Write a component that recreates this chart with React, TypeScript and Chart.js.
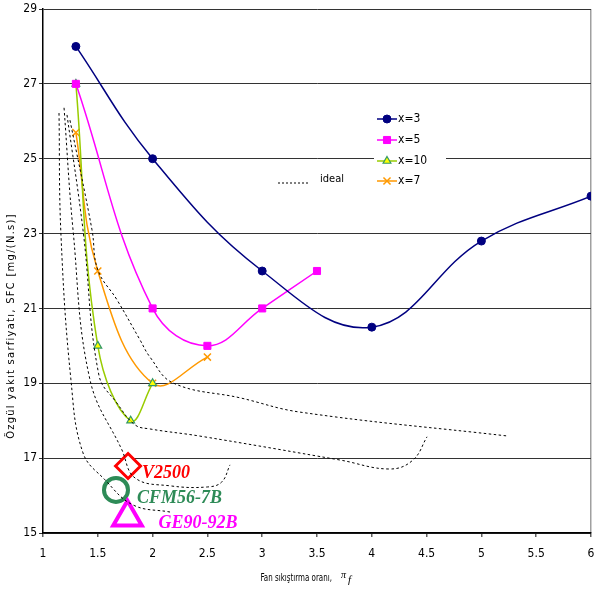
import React, { useEffect, useRef } from "react";
import { Chart, registerables } from "chart.js";

Chart.register(...registerables);

const NARROW = '"Liberation Sans Narrow", "Arial Narrow", "DejaVu Sans Condensed", "Liberation Sans", sans-serif';
const SERIF = '"Liberation Serif", "Times New Roman", serif';

// ---- data ----
const seriesLabels = ["x=3", "x=5", "x=10", "x=7"];

const x3X = [1.3, 2, 3, 4, 5, 6];
const x3Y = [28, 25, 22, 20.5, 22.8, 24];

const x5X = [1.3, 2, 2.5, 3, 3.5];
const x5Y = [27, 21, 20, 21, 22];

const x10X = [1.3, 1.5, 1.8, 2];
const x10Y = [27, 20, 18, 19];

const x7X = [1.3, 1.5, 2, 2.5];
const x7Y = [25.7, 22, 19, 19.7];

const idealLabel = "ideal";
const ideal1X = [1.146, 1.164, 1.255, 1.365, 1.566, 1.821, 2.159];
const ideal1Y = [26.22, 22.96, 19.09, 17.14, 16.42, 15.75, 15.56];
const ideal2X = [1.192, 1.274, 1.429, 1.72, 1.84, 2.16, 2.5, 2.63, 2.706];
const ideal2Y = [26.36, 23.1, 19.09, 17.22, 16.47, 16.26, 16.23, 16.36, 16.82];
const ideal3X = [1.219, 1.365, 1.51, 1.675, 1.839, 1.976, 2.43, 3.71, 4.166, 4.376, 4.504];
const ideal3Y = [26.17, 23.1, 19.22, 18.47, 17.89, 17.78, 17.59, 16.95, 16.71, 16.95, 17.57];
const ideal4X = [1.246, 1.447, 1.5, 1.675, 1.885, 1.976, 2.186, 2.8, 3.345, 5.243];
const ideal4Y = [26.03, 23.1, 22.03, 21.23, 20.16, 19.7, 19.01, 18.61, 18.23, 17.59];

const engineNames = ["V2500", "CFM56-7B", "GE90-92B"];
const engineX = [1.776, 1.666, 1.771];
const engineY = [16.79, 16.15, 15.42];

const xMin = 1;
const xMax = 6;
const xStep = 0.5;
const yMin = 15;
const yMax = 29;
const yStep = 2;

const yTitle = "Özgül yakıt sarfiyatı, SFC [mg/(N.s)]";
const xTitle = "Fan sıkıştırma oranı,";
const xTitleSym = "π";
const xTitleSub = "f";

// ---- helpers ----
const pts = (xs: number[], ys: number[]) => xs.map((x, i) => ({ x, y: ys[i] }));

function markerPath(ctx: CanvasRenderingContext2D, style: string, x: number, y: number, r: number) {
  ctx.beginPath();
  if (style === "circle") {
    ctx.arc(x, y, r, 0, Math.PI * 2);
  } else if (style === "rect") {
    const s = r * Math.SQRT1_2;
    ctx.rect(x - s, y - s, 2 * s, 2 * s);
  } else if (style === "triangle") {
    ctx.moveTo(x, y - r);
    ctx.lineTo(x + 0.866 * r, y + 0.5 * r);
    ctx.lineTo(x - 0.866 * r, y + 0.5 * r);
    ctx.closePath();
  } else if (style === "crossRot") {
    const s = r * Math.SQRT1_2;
    ctx.moveTo(x - s, y - s);
    ctx.lineTo(x + s, y + s);
    ctx.moveTo(x + s, y - s);
    ctx.lineTo(x - s, y + s);
  }
}

const decorPlugin = {
  id: "decor",
  afterDatasetsDraw(chart: any) {
    const ctx: CanvasRenderingContext2D = chart.ctx;
    const engIdx = chart.data.datasets.findIndex((d: any) => d.isEngine);
    const meta = chart.getDatasetMeta(engIdx);
    const colors = ["#ff0000", "#2e8b57", "#ff00ff"];
    const offs = [
      [14, 7.5],
      [21, 8],
      [31, 6],
    ];
    ctx.save();
    ctx.font = `bold italic 18px ${SERIF}`;
    ctx.textAlign = "left";
    ctx.textBaseline = "middle";
    engineNames.forEach((name, i) => {
      const el = meta.data[i];
      ctx.fillStyle = colors[i];
      ctx.fillText(name, el.x + offs[i][0], el.y + offs[i][1]);
    });
    ctx.restore();
  },
  afterDraw(chart: any) {
    const ctx: CanvasRenderingContext2D = chart.ctx;
    ctx.save();
    // legend box
    ctx.fillStyle = "#ffffff";
    ctx.fillRect(374, 108, 72, 84);
    const rows = [119, 140, 161, 181];
    const dsets = chart.data.datasets.filter((d: any) => d.isSeries);
    dsets.forEach((d: any, i: number) => {
      const y = rows[i];
      ctx.strokeStyle = d.borderColor;
      ctx.lineWidth = 1.5;
      ctx.setLineDash([]);
      ctx.beginPath();
      ctx.moveTo(377, y);
      ctx.lineTo(397, y);
      ctx.stroke();
      markerPath(ctx, d.pointStyle, 387, y, d.pointRadius);
      if (d.pointStyle !== "crossRot") {
        ctx.fillStyle = d.pointBackgroundColor;
        ctx.fill();
      }
      ctx.strokeStyle = d.pointBorderColor;
      ctx.lineWidth = d.pointBorderWidth;
      ctx.stroke();
      ctx.fillStyle = "#000";
      ctx.font = `12px ${NARROW}`;
      ctx.textAlign = "left";
      ctx.textBaseline = "middle";
      ctx.fillText(d.label, 398, y);
    });
    // ideal legend
    ctx.strokeStyle = "#000";
    ctx.lineWidth = 1;
    ctx.setLineDash([2, 2]);
    ctx.beginPath();
    ctx.moveTo(278, 183);
    ctx.lineTo(310, 183);
    ctx.stroke();
    ctx.setLineDash([]);
    ctx.fillStyle = "#000";
    ctx.font = `11px ${NARROW}`;
    ctx.textAlign = "left";
    ctx.textBaseline = "middle";
    ctx.fillText(idealLabel, 320, 179);

    // y title
    ctx.save();
    ctx.translate(11, 326);
    ctx.rotate(-Math.PI / 2);
    ctx.font = `11px ${NARROW}`;
    (ctx as any).letterSpacing = "1.3px";
    ctx.textAlign = "center";
    ctx.textBaseline = "middle";
    ctx.fillText(yTitle, 0, 0);
    ctx.restore();

    // x title
    ctx.save();
    ctx.translate(332, 578);
    ctx.scale(0.72, 1);
    ctx.font = `11px ${NARROW}`;
    ctx.textAlign = "right";
    ctx.textBaseline = "middle";
    ctx.fillStyle = "#000";
    ctx.fillText(xTitle, 0, 0);
    ctx.restore();
    ctx.fillStyle = "#000";
    ctx.font = `italic 10px ${SERIF}`;
    ctx.textAlign = "left";
    ctx.textBaseline = "middle";
    ctx.fillText(xTitleSym, 341, 575);
    ctx.font = `italic 11px ${SERIF}`;
    ctx.fillText(xTitleSub, 348, 580);
    ctx.restore();
  },
};

export default function App() {
  const ref = useRef<HTMLCanvasElement | null>(null);

  useEffect(() => {
    if (!ref.current) return;
    const idealStyle = {
      borderColor: "#000",
      borderWidth: 1,
      borderDash: [2.5, 2.5],
      pointRadius: 0,
      tension: 0.4,
      fill: false,
      label: idealLabel,
    };
    const zeroPad = (s: any) => {
      s.paddingTop = 0;
      s.paddingBottom = 0;
      s.paddingLeft = 0;
      s.paddingRight = 0;
    };
    const chart = new Chart(ref.current, {
      type: "line",
      data: {
        datasets: [
          { ...idealStyle, data: pts(ideal1X, ideal1Y) },
          { ...idealStyle, data: pts(ideal2X, ideal2Y) },
          { ...idealStyle, data: pts(ideal3X, ideal3Y) },
          { ...idealStyle, data: pts(ideal4X, ideal4Y) },
          {
            label: seriesLabels[0],
            isSeries: true,
            data: pts(x3X, x3Y),
            borderColor: "#000080",
            borderWidth: 1.5,
            pointStyle: "circle",
            pointRadius: 4,
            pointBackgroundColor: "#000080",
            pointBorderColor: "#000080",
            pointBorderWidth: 1,
            tension: 0.4,
          },
          {
            label: seriesLabels[1],
            isSeries: true,
            data: pts(x5X, x5Y),
            borderColor: "#ff00ff",
            borderWidth: 1.5,
            pointStyle: "rect",
            pointRadius: 5,
            pointBackgroundColor: "#ff00ff",
            pointBorderColor: "#ff00ff",
            pointBorderWidth: 1,
            tension: 0.4,
          },
          {
            label: seriesLabels[2],
            isSeries: true,
            data: pts(x10X, x10Y),
            borderColor: "#99cc00",
            borderWidth: 1.5,
            pointStyle: "triangle",
            pointRadius: 4.5,
            pointBackgroundColor: "#ffff00",
            pointBorderColor: "#339966",
            pointBorderWidth: 1.2,
            tension: 0.4,
          },
          {
            label: seriesLabels[3],
            isSeries: true,
            data: pts(x7X, x7Y),
            borderColor: "#ff9900",
            borderWidth: 1.5,
            pointStyle: "crossRot",
            pointRadius: 5,
            pointBackgroundColor: "#ff9900",
            pointBorderColor: "#ff9900",
            pointBorderWidth: 1.5,
            tension: 0.4,
          },
          {
            label: "engines",
            isEngine: true,
            data: pts(engineX, engineY),
            showLine: false,
            pointStyle: ["rectRot", "circle", "triangle"],
            pointRadius: [12.5, 12, 16.5],
            pointBorderWidth: [3, 4, 4],
            pointBorderColor: ["#ff0000", "#2e8b57", "#ff00ff"],
            pointBackgroundColor: "#ffffff",
          } as any,
        ] as any,
      },
      options: {
        responsive: false,
        animation: false,
        events: [],
        layout: { autoPadding: false, padding: { top: 9, right: 9, left: 0, bottom: 0 } },
        plugins: {
          legend: { display: false },
          tooltip: { enabled: false },
          title: { display: false },
        },
        scales: {
          x: {
            type: "linear",
            min: xMin,
            max: xMax,
            afterFit: (s: any) => {
              s.height = 56;
              zeroPad(s);
            },
            ticks: {
              stepSize: xStep,
              font: { family: NARROW, size: 12 },
              color: "#000",
              padding: 10,
              maxRotation: 0,
              callback: (v: any) => String(v),
            },
            grid: {
              drawOnChartArea: true,
              color: (c: any) => (c.tick && c.tick.value === xMax ? "#a0a0a0" : "rgba(0,0,0,0)"),
              tickColor: "#606060",
              tickLength: 4,
              lineWidth: 1.5,
            },
            border: { color: "#000", width: 1.5 },
          },
          y: {
            type: "linear",
            min: yMin,
            max: yMax,
            afterFit: (s: any) => {
              s.width = 43;
              zeroPad(s);
            },
            ticks: {
              stepSize: yStep,
              font: { family: NARROW, size: 12 },
              color: "#000",
              padding: 2,
            },
            grid: {
              color: "#333",
              tickColor: "#333",
              tickLength: 4,
              lineWidth: 1,
            },
            border: { color: "#000", width: 1.5 },
          },
        },
      } as any,
      plugins: [decorPlugin],
    });
    return () => chart.destroy();
  }, []);

  return (
    <div style={{ position: "absolute", left: 0, top: 0, width: 600, height: 589, background: "#fff" }}>
      <canvas ref={ref} width={600} height={589} style={{ width: 600, height: 589, display: "block" }} />
    </div>
  );
}
